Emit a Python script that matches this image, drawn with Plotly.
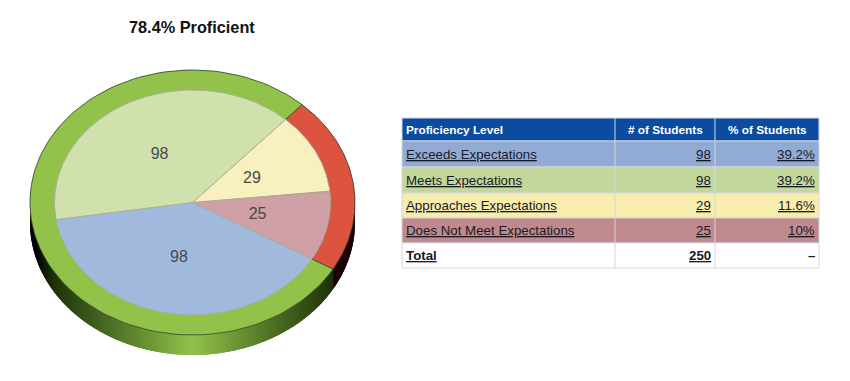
import math
import plotly.graph_objects as go

# ---- data ----
title = "78.4% Proficient"
levels = ["Exceeds Expectations", "Meets Expectations", "Approaches Expectations", "Does Not Meet Expectations"]
students = [98, 98, 29, 25]
percents = ["39.2%", "39.2%", "11.6%", "10%"]
total_label = "Total"
total_students = 250
total_percent = "–"
headers = ["Proficiency Level", "# of Students", "% of Students"]

# slice order clockwise from the top-right boundary
slice_order = [2, 3, 0, 1]
slice_colors = {0: "#a2b9de", 1: "#d0e1ae", 2: "#f8f1bf", 3: "#cfa1a7"}
row_colors = ["#92abd6", "#c3d69b", "#f7edae", "#bf898e", "#ffffff"]
rim_red = "#dc5340"
rim_green = "#92c24a"
red_levels = [2, 3]     # rim is red over these slices
green_levels = [0, 1]   # rim is green over these slices

# ---- geometry of the pie ----
CX, CY = 192.5, 202.5
RX, RY = 162.5, 132.5
IRX, IRY = 138.0, 112.5
DEPTH = 20
START = 47.6

# ---- geometry of the table ----
COLS = [402, 615, 715, 819]
ROWS = [118, 141, 167, 193, 218, 243, 268]


def pt(t, rx, ry, dy=0):
    a = math.radians(t)
    return CX + rx * math.cos(a), CY - ry * math.sin(a) + dy


def mix(c1, c2, f):
    return "rgb(%d,%d,%d)" % tuple(round(a + (b - a) * f) for a, b in zip(c1, c2))


fig = go.Figure()
total = sum(students)

angles = {}
cur = START
for i in slice_order:
    sweep = 360 * students[i] / total
    angles[i] = (cur, cur - sweep)
    cur -= sweep

GREEN_B, GREEN_D = (146, 194, 74), (30, 52, 10)
red_end = angles[3][1]

# side wall as overlapping gradient strips, drawn left to right
STEP = 1
for t in range(178, 362, STEP):
    n = 4
    ts = [t + 2.5 * STEP * k / n for k in range(n + 1)]
    xs = [pt(a, RX, RY)[0] for a in ts] + [pt(a, RX, RY, DEPTH)[0] for a in reversed(ts)]
    ys = [pt(a, RX, RY)[1] for a in ts] + [pt(a, RX, RY, DEPTH)[1] for a in reversed(ts)]
    mid = t + STEP / 2
    dist = abs(math.cos(math.radians(mid)))
    if mid >= 360 + red_end:
        color = "#1c0006"
    elif dist < 0.85:
        color = mix(GREEN_B, GREEN_D, dist / 0.85)
    else:
        color = mix(GREEN_D, (0, 0, 0), (dist - 0.85) / 0.12 if dist < 0.97 else 1)
    fig.add_trace(go.Scatter(x=xs, y=ys, mode="lines", fill="toself", fillcolor=color,
                             line=dict(width=0), hoverinfo="skip", showlegend=False))


def sector(a0, a1, rx, ry, fillc, linec, lw):
    n = 120
    ts = [a0 + (a1 - a0) * k / n for k in range(n + 1)]
    xs = [CX] + [pt(a, rx, ry)[0] for a in ts] + [CX]
    ys = [CY] + [pt(a, rx, ry)[1] for a in ts] + [CY]
    fig.add_trace(go.Scatter(x=xs, y=ys, mode="lines", fill="toself", fillcolor=fillc,
                             line=dict(color=linec, width=lw), hoverinfo="skip", showlegend=False))


# rim: one sector per colour
sector(angles[red_levels[0]][0], angles[red_levels[-1]][1], RX, RY, rim_red, "#4a3a2a", 0.9)
sector(angles[green_levels[0]][0], angles[green_levels[-1]][1], RX, RY, rim_green, "#35502a", 0.9)

# faces
for i in slice_order:
    a0, a1 = angles[i]
    sector(a0, a1, IRX, IRY, slice_colors[i], "#a8ae9c", 0.9)

# slice labels at mid-angle
for i in slice_order:
    a0, a1 = angles[i]
    x, y = pt((a0 + a1) / 2, IRX * 0.49, IRY * 0.49)
    fig.add_trace(go.Scatter(x=[x - 1], y=[y + 1], mode="text", text=[str(students[i])],
                             textfont=dict(family="Liberation Sans", size=16, color="#444a4c"),
                             textposition="middle center", hoverinfo="skip", showlegend=False))

shapes = []
annotations = [dict(text="<b>%s</b>" % title, x=192, y=27, xref="x", yref="y", showarrow=False,
                    font=dict(family="Liberation Sans", size=16.3, color="#111111"))]


def cell_text(text, col, row, anchor, size, color):
    x = {"left": COLS[col] + 2, "right": COLS[col + 1] - 2,
         "center": (COLS[col] + COLS[col + 1]) / 2}[anchor]
    annotations.append(dict(text=text, x=x, y=(ROWS[row] + ROWS[row + 1]) / 2, xref="x", yref="y",
                            xanchor=anchor, yanchor="middle", showarrow=False,
                            font=dict(family="Liberation Sans", size=size, color=color)))


# header
shapes.append(dict(type="rect", x0=COLS[0], x1=COLS[-1], y0=ROWS[0], y1=ROWS[1], xref="x", yref="y",
                   fillcolor="#0b4ca0", line=dict(color="#d0d6e0", width=1), layer="above"))
for c, h in enumerate(headers):
    cell_text("<b>%s</b>" % h, c, 0, "left" if c == 0 else "center", 11.8, "#ffffff")

col1 = ["<u>%s</u>" % s for s in levels] + ["<b><u>%s</u></b>" % total_label]
col2 = ["<u>%d</u>" % s for s in students] + ["<b><u>%d</u></b>" % total_students]
col3 = ["<u>%s</u>" % s for s in percents] + ["<b>%s</b>" % total_percent]
for r in range(5):
    shapes.append(dict(type="rect", x0=COLS[0], x1=COLS[-1], y0=ROWS[r + 1], y1=ROWS[r + 2], xref="x", yref="y",
                       fillcolor=row_colors[r], line=dict(color="#d3d6da", width=1), layer="above"))
    cell_text(col1[r], 0, r + 1, "left", 13.3, "#1a1a22")
    cell_text(col2[r], 1, r + 1, "right", 13.3, "#1a1a22")
    cell_text(col3[r], 2, r + 1, "right", 13.3, "#1a1a22")
for x in COLS[1:3]:
    shapes.append(dict(type="line", x0=x, x1=x, y0=ROWS[0], y1=ROWS[-1], xref="x", yref="y",
                       line=dict(color="#d3d6da", width=1), layer="above"))

fig.update_layout(
    width=850, height=381, margin=dict(l=0, r=0, t=0, b=0),
    paper_bgcolor="#ffffff", plot_bgcolor="#ffffff",
    xaxis=dict(range=[0, 850], visible=False, domain=[0, 1]),
    yaxis=dict(range=[381, 0], visible=False, domain=[0, 1]),
    shapes=shapes, annotations=annotations, showlegend=False,
)
fig.write_html("out.html", post_script="document.body.style.margin='0';document.body.style.overflow='hidden';",
               config={"displayModeBar": False})
